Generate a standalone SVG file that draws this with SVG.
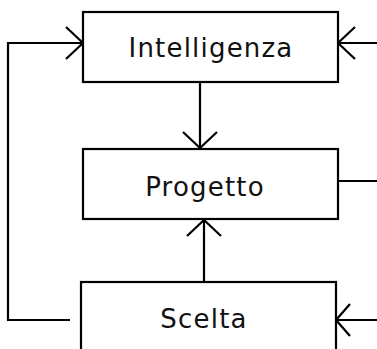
<svg xmlns="http://www.w3.org/2000/svg" width="377" height="349" viewBox="0 0 377 349">
<defs>
<style>
.box{fill:#fff;stroke:#000;stroke-width:2.2}
.ln{fill:none;stroke:#000;stroke-width:2.2}
.t{font-family:"DejaVu Sans",sans-serif;font-size:26px;letter-spacing:1.2px;fill:#111;text-anchor:middle}
</style>
</defs>
<g id="connectors">
<path class="ln" d="M70,320 H8 V43 H83"/>
<path class="ln" d="M66,27 L83,43 L66,59"/>
<path class="ln" d="M377,43 H338"/>
<path class="ln" d="M355,27 L338,43 L355,59"/>
<path class="ln" d="M200,82 V148"/>
<path class="ln" d="M183,132 L200,148 L217,132"/>
<path class="ln" d="M338,181 H377"/>
<path class="ln" d="M204,282 V220"/>
<path class="ln" d="M187,236 L204,220 L221,236"/>
<path class="ln" d="M377,320 H336"/>
<path class="ln" d="M350,304 L336,320 L350,336"/>
</g>
<g id="intelligenza">
<rect class="box" x="83" y="12" width="255" height="70"/>
<text class="t" x="211" y="57">Intelligenza</text>
</g>
<g id="progetto">
<rect class="box" x="83" y="149" width="255" height="70"/>
<text class="t" x="205" y="196">Progetto</text>
</g>
<g id="scelta">
<rect class="box" x="81" y="282" width="255" height="80"/>
<text class="t" x="204" y="328">Scelta</text>
</g>
</svg>
